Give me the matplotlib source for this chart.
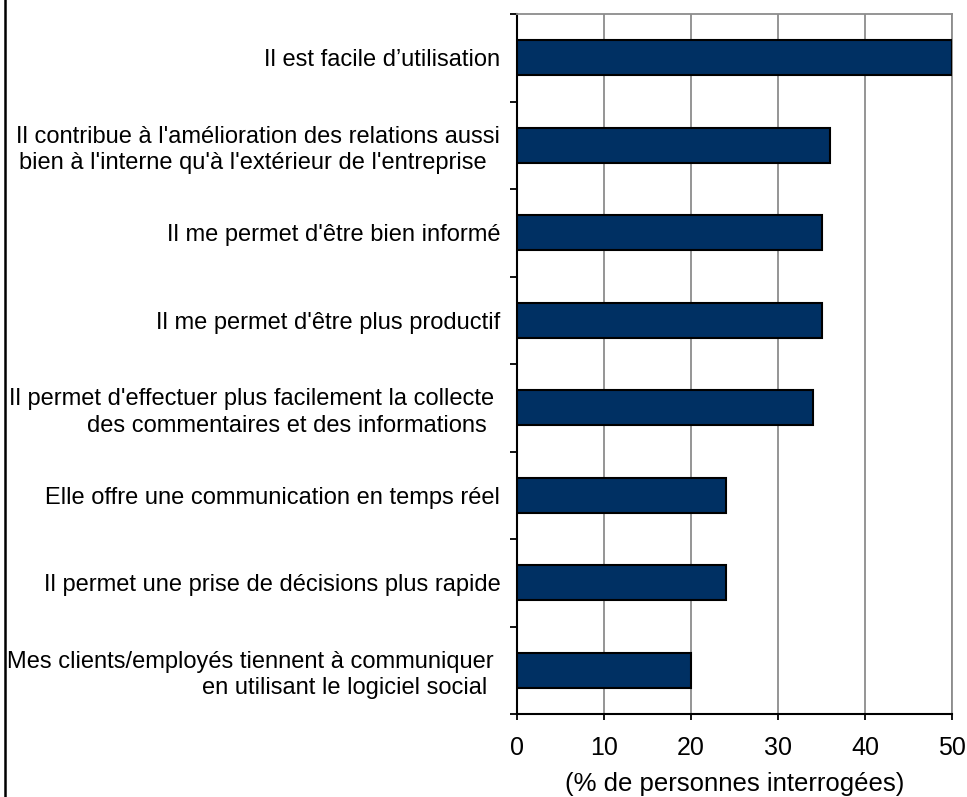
import matplotlib
matplotlib.use("Agg")
import matplotlib.pyplot as plt
from matplotlib.lines import Line2D
import numpy as np

plt.rcParams['font.family'] = ['Liberation Sans', 'DejaVu Sans']

categories = [
    "Il est facile d\u2019utilisation",
    "Il contribue à l'amélioration des relations aussi\nbien à l'interne qu'à l'extérieur de l'entreprise  ",
    "Il me permet d'être bien informé",
    "Il me permet d'être plus productif",
    "Il permet d'effectuer plus facilement la collecte \ndes commentaires et des informations  ",
    "Elle offre une communication en temps réel",
    "Il permet une prise de décisions plus rapide",
    "Mes clients/employés tiennent à communiquer \nen utilisant le logiciel social  ",
]
values = [50, 36, 35, 35, 34, 24, 24, 20]
xticks = [0, 10, 20, 30, 40, 50]
xlabel = "(% de personnes interrogées)"

fig = plt.figure(figsize=(9.67, 7.97), dpi=100)
ax = fig.add_axes([517/967, 1-714/797, (952-517)/967, (714-14)/797])

pos = np.arange(len(categories))
ax.barh(pos, values, height=0.4, color='#003063', edgecolor='black',
        linewidth=1.5, zorder=3)

ax.set_xlim(0, 50)
ax.set_ylim(len(categories)-0.5, -0.5)
ax.set_xticks(xticks)
ax.set_xticklabels([str(v) for v in xticks], fontsize=18)
ax.xaxis.grid(True, color='#8c8c8c', linewidth=1.3, zorder=0)
ax.set_axisbelow(True)

# major y ticks at category boundaries, labels at centres
ax.set_yticks(np.arange(-0.5, len(categories), 1.0))
ax.set_yticklabels([])
ax.set_yticks(pos, minor=True)
ax.set_yticklabels(categories, minor=True, fontsize=17, ha='right',
                   multialignment='right', linespacing=1.25)
ax.tick_params(axis='y', which='minor', length=0, pad=12)
ax.tick_params(axis='y', which='major', length=5, width=1.3, direction='out')
ax.tick_params(axis='x', length=4.5, width=1.3, direction='out', pad=11)

for s in ['left', 'bottom']:
    ax.spines[s].set_color('black')
    ax.spines[s].set_linewidth(1.5)
for s in ['top', 'right']:
    ax.spines[s].set_color('#8c8c8c')
    ax.spines[s].set_linewidth(1.3)

ax.set_xlabel(xlabel, fontsize=18.5, labelpad=9)

fig.add_artist(Line2D([0.0048, 0.0048], [0, 1], transform=fig.transFigure,
                      color='black', linewidth=1.8))

fig.savefig("out.png", dpi=100)
